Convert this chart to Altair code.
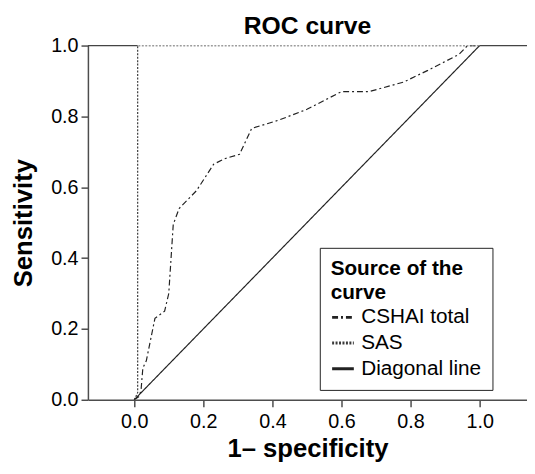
import altair as alt
import pandas as pd

# ROC data
cshai_x = [0.0, 0.015, 0.02, 0.025, 0.035, 0.06, 0.088, 0.10, 0.113, 0.13, 0.18, 0.23, 0.26, 0.305,
           0.34, 0.42, 0.50, 0.60, 0.68, 0.78, 0.85, 0.94, 0.965, 1.0]
cshai_y = [0.0, 0.01, 0.03, 0.09, 0.11, 0.23, 0.25, 0.30, 0.495, 0.54, 0.59, 0.665, 0.68, 0.693,
           0.766, 0.79, 0.82, 0.87, 0.87, 0.897, 0.93, 0.975, 1.0, 1.0]
sas_x = [0.0, 0.01, 0.01, 1.0]
sas_y = [0.0, 0.02, 1.0, 1.0]
diag_x = [0.0, 1.0]
diag_y = [0.0, 1.0]

series_names = ["CSHAI total", "SAS", "Diagonal line"]
x_ticks = [0.0, 0.2, 0.4, 0.6, 0.8, 1.0]
y_ticks = [0.0, 0.2, 0.4, 0.6, 0.8, 1.0]
x_domain = [-0.134, 1.137]

rows = []
for name, xs, ys in zip(series_names, [cshai_x, sas_x, diag_x], [cshai_y, sas_y, diag_y]):
    for i, (a, b) in enumerate(zip(xs, ys)):
        rows.append({"series": name, "x": a, "y": b, "i": i})
df = pd.DataFrame(rows)

frame_df = pd.DataFrame({"x": [x_domain[0], 1.0], "x2": [0.01, x_domain[1]], "y": [1.0, 1.0]})

font = "Liberation Sans"

xscale = alt.Scale(domain=x_domain, nice=False, zero=False)
yscale = alt.Scale(domain=[0, 1], nice=False)

legend = alt.Legend(title=["Source of the", "curve"], orient="none", legendX=235, legendY=205)

lines = alt.Chart(df).mark_line(strokeWidth=1.2, clip=True).encode(
    x=alt.X("x:Q", scale=xscale,
            axis=alt.Axis(title="1\u2013 specificity", values=x_ticks, format=".1f", grid=False)),
    y=alt.Y("y:Q", scale=yscale,
            axis=alt.Axis(title="Sensitivity", values=y_ticks, format=".1f", grid=False)),
    order="i:Q",
    color=alt.Color("series:N", sort=series_names,
                    scale=alt.Scale(domain=series_names, range=["#222222", "#3a3a3a", "#222222"]),
                    legend=legend),
    strokeDash=alt.StrokeDash("series:N", sort=series_names,
                              scale=alt.Scale(domain=series_names,
                                              range=[[6, 3, 2, 3], [2, 1.5], [1, 0]]),
                              legend=legend),
)

frame = alt.Chart(frame_df).mark_rule(color="#444444", strokeWidth=1.2).encode(
    x=alt.X("x:Q", scale=xscale), x2="x2:Q", y=alt.Y("y:Q", scale=yscale)
)

chart = alt.layer(frame, lines).properties(
    width=445, height=359,
    autosize=alt.AutoSizeParams(type="none"),
    padding={"left": 81, "top": 35, "right": 0, "bottom": 60},
    title=alt.Title("ROC curve", fontSize=25, font=font, fontWeight="bold", color="black",
                    anchor="middle", offset=-3),
).configure_view(stroke=None).configure_axis(
    labelFont=font, labelFontSize=20, labelColor="black",
    titleFont=font, titleFontSize=26, titleFontWeight="bold", titleColor="black",
    domainColor="#4d4d4d", domainWidth=1.5, tickColor="#4d4d4d", tickWidth=1.5, tickSize=7,
    labelPadding=3,
).configure_axisX(titlePadding=5, labelPadding=5).configure_axisY(titlePadding=14).configure_legend(
    titleFont=font, titleFontSize=21, titleFontWeight="bold", titleColor="black",
    titleLineHeight=24, titlePadding=2,
    labelFont=font, labelFontSize=21, labelColor="black", labelOffset=6,
    symbolType="stroke", symbolSize=484, symbolStrokeWidth=3,
    rowPadding=3, padding=11, strokeColor="#222222", fillColor="white", cornerRadius=0,
)

chart.save("out.html", embed_options={"renderer": "svg", "actions": False})
